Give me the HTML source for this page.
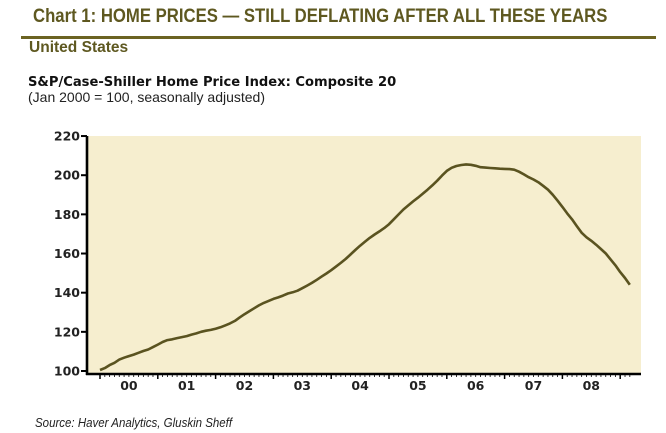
<!DOCTYPE html>
<html><head><meta charset="utf-8"><style>
body{margin:0;background:#fff;width:666px;height:433px;overflow:hidden;position:relative;font-family:"Liberation Sans",sans-serif}
.t{position:absolute;white-space:nowrap}
</style></head><body>
<div class="t" style="left:33px;top:6px;font-size:19px;font-weight:bold;color:#5e5820;transform:scaleX(0.88);transform-origin:left">Chart 1: HOME PRICES — STILL DEFLATING AFTER ALL THESE YEARS</div>
<div style="position:absolute;left:21px;top:36px;width:635px;height:3px;background:#6b6322"></div>
<div class="t" style="left:29px;top:39px;font-size:16px;font-weight:bold;color:#5e5820;transform:scaleX(0.97);transform-origin:left">United States</div>
<div class="t" style="left:28px;top:74px;font-size:13.5px;font-weight:bold;color:#111;font-family:'DejaVu Sans',sans-serif;transform:scaleX(0.97);transform-origin:left">S&amp;P/Case-Shiller Home Price Index: Composite 20</div>
<div class="t" style="left:28px;top:89px;font-size:14px;color:#222">(Jan 2000 = 100, seasonally adjusted)</div>
<div class="t" style="left:35px;top:416px;font-size:12.5px;font-style:italic;color:#222;transform:scaleX(0.92);transform-origin:left">Source: Haver Analytics, Gluskin Sheff</div>
<svg id="chart" width="666" height="433" style="position:absolute;left:0;top:0"></svg>
<script>
const yearLabels=["00","01","02","03","04","05","06","07","08"];
const yTicks=[100,120,140,160,180,200,220];
const hpi=[100.5,101.5,103,104.2,105.8,106.8,107.6,108.4,109.3,110.2,111,112.2,
113.5,114.8,115.8,116.2,116.8,117.3,117.8,118.6,119.2,120,120.6,121,
121.6,122.3,123.3,124.3,125.6,127.4,129,130.5,132,133.5,134.8,135.8,
136.8,137.6,138.5,139.6,140.2,141,142.3,143.6,145,146.6,148.2,149.8,
151.5,153.3,155.2,157.2,159.5,161.8,164,166,168,169.7,171.3,173,
175,177.5,180,182.5,184.6,186.6,188.5,190.5,192.6,194.8,197.2,199.8,
202.2,203.8,204.7,205.2,205.5,205.3,204.8,204.1,203.9,203.7,203.5,203.3,
203.2,203.1,202.8,201.8,200.4,199,197.8,196.4,194.6,192.6,190,187,
183.8,180.5,177.5,174,170.6,168.3,166.5,164.5,162.3,160,157,154,
150.5,147.5,144];
const NS="http://www.w3.org/2000/svg";
const svg=document.getElementById('chart');
const L=87,R=641,T=136,B=374;
const x0=100,yearW=57.8;
const xm=i=>x0+i*yearW/12;
const y=v=>371-(v-100)*1.958;
function mk(tag,attrs){const e=document.createElementNS(NS,tag);for(const k in attrs)e.setAttribute(k,attrs[k]);svg.appendChild(e);return e;}
const bg=mk('rect',{x:L,y:T,width:R-L,height:B-T,fill:'#f6eecf'});


const pts=hpi.map((v,i)=>xm(i).toFixed(1)+','+y(v).toFixed(1)).join(' ');
const line=mk('polyline',{points:pts,fill:'none',stroke:'#5a5320','stroke-width':2.6,'stroke-linejoin':'round'});


const ya=mk('line',{x1:L,y1:T,x2:L,y2:B+1,stroke:'#000','stroke-width':2.6});


const xa=mk('line',{x1:L-1,y1:B,x2:R,y2:B,stroke:'#000','stroke-width':2.6});


yTicks.forEach(v=>{
  const tk=mk('line',{x1:L-6,y1:y(v),x2:L,y2:y(v),stroke:'#000','stroke-width':2});
  
  
  const tx=mk('text',{x:L-7,y:y(v)+4.5,'text-anchor':'end','font-size':12.5,'font-family':'DejaVu Sans, sans-serif','font-weight':'600',fill:'#222'});
  tx.textContent=v;
  
  
});
for(let m=0;m<=yearLabels.length*12+2;m++){
  const xx=xm(m); if(xx>R) break;
  const major=m%12===0;
  const tk=mk('line',{x1:xx,y1:B,x2:xx,y2:B+(major?5:3),stroke:'#000','stroke-width':major?1.5:0.8});
  
  
}
yearLabels.forEach((lb,k)=>{
  const tx=mk('text',{x:x0+yearW*(k+0.5),y:390,'text-anchor':'middle','font-size':12.5,'font-family':'DejaVu Sans, sans-serif','font-weight':'600',fill:'#222'});
  tx.textContent=lb;
  
  
});
</script>
</body></html>
